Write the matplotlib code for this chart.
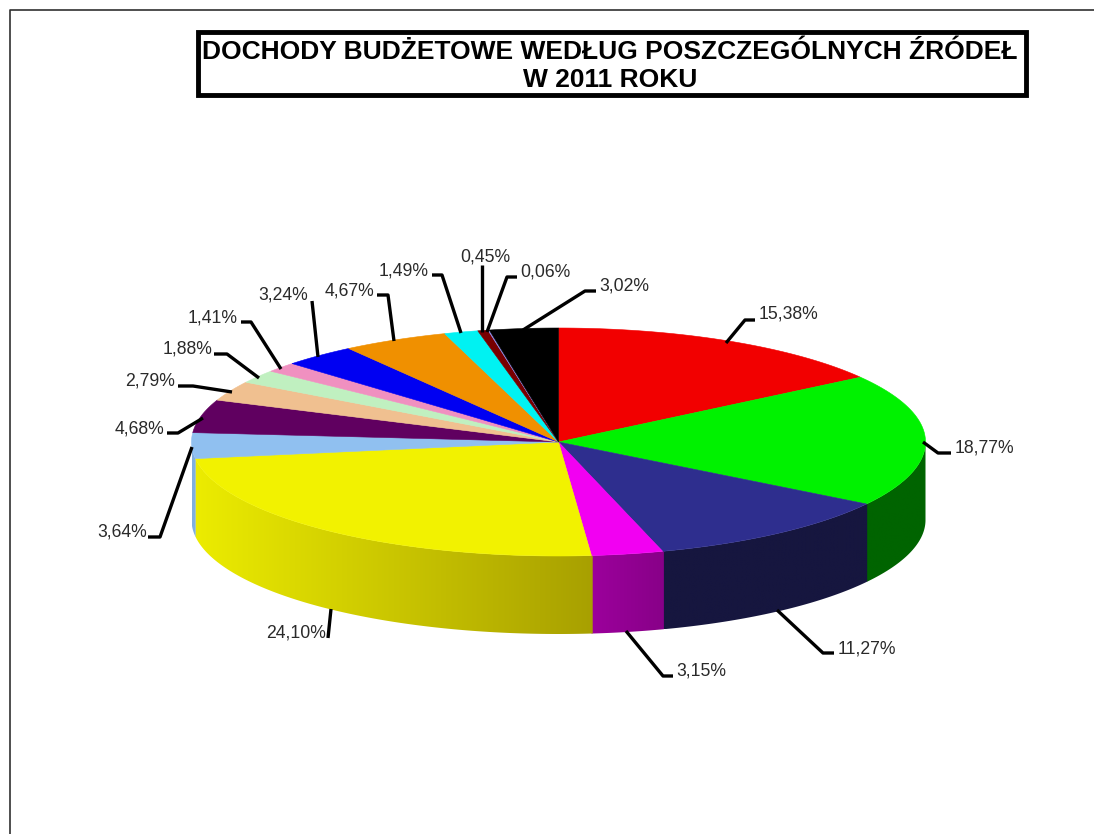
import numpy as np
import matplotlib
matplotlib.use('Agg')
import matplotlib.pyplot as plt
from matplotlib.colors import to_rgb
from matplotlib.patches import Polygon, Rectangle

plt.rcParams['font.family'] = ['Liberation Sans', 'DejaVu Sans']

title = 'DOCHODY BUDŻETOWE WEDŁUG POSZCZEGÓLNYCH ŹRÓDEŁ\nW 2011 ROKU'

shares = [15.38, 18.77, 11.27, 3.15, 24.10, 3.64, 4.68, 2.79,
          1.88, 1.41, 3.24, 4.67, 1.49, 0.45, 0.06, 3.02]
labels = ['15,38%', '18,77%', '11,27%', '3,15%', '24,10%', '3,64%', '4,68%', '2,79%',
          '1,88%', '1,41%', '3,24%', '4,67%', '1,49%', '0,45%', '0,06%', '3,02%']
top_colors = ['#f20000', '#00f200', '#2e2e8e', '#f200f2', '#f2f200', '#90c0f0', '#600060', '#f0c090',
              '#c0f0c0', '#f090c0', '#0000f2', '#f09000', '#00f2f2', '#780000', '#9090f0', '#000000']
# side colours at the left and at the right end of the pie wall
side_left = {1: '#006400', 2: '#16163f', 3: '#9c009c', 4: '#ecec00', 5: '#80b0e0'}
side_right = {1: '#006400', 2: '#16163f', 3: '#880088', 4: '#a8a000', 5: '#80b0e0'}

# leader lines, in picture pixels: path, then text anchor
leaders = [
    ([(726, 343), (745, 320), (755, 320)], (759, 314), 'left'),
    ([(923, 442), (938, 453), (951, 453)], (955, 448), 'left'),
    ([(777, 610), (823, 653), (834, 653)], (838, 649), 'left'),
    ([(626, 631), (663, 676), (673, 676)], (676, 671), 'left'),
    ([(331, 609), (328, 638)], (326, 633), 'right'),
    ([(192, 447), (160, 537), (148, 537)], (147, 532), 'right'),
    ([(203, 418), (178, 433), (167, 433)], (164, 429), 'right'),
    ([(232, 392), (193, 386), (178, 386)], (175, 381), 'right'),
    ([(259, 378), (227, 354), (214, 354)], (212, 349), 'right'),
    ([(281, 369), (251, 322), (241, 322)], (238, 318), 'right'),
    ([(318, 357), (312, 301)], (308, 295), 'right'),
    ([(394, 341), (388, 295), (377, 295)], (374, 291), 'right'),
    ([(461, 333), (442, 275), (432, 275)], (429, 271), 'right'),
    ([(482, 332), (482, 265)], (485, 257), 'center'),
    ([(487, 332), (507, 277), (517, 277)], (520, 272), 'left'),
    ([(523, 330), (585, 291), (596, 291)], (599, 286), 'left'),
]

cx, cy = 558.5, 442.0
rx, ry = 367.0, 114.0
depth = 78.0


def ellipse_xy(deg):
    # angle counted clockwise from 12 o'clock
    rad = np.radians(deg)
    return cx + rx * np.sin(rad), cy - ry * np.cos(rad)


def draw_side(ax, i, start, end):
    a0 = max(start, 90)
    a1 = min(end, 270)
    if a1 <= a0:
        return
    # slight overlap so no white seam shows between two walls
    arc = np.linspace(a0 - 0.2, a1, 120)
    xs, ys = ellipse_xy(arc)
    outline = np.column_stack([np.r_[xs, xs[::-1]], np.r_[ys, ys[::-1] + depth]])
    clip = Polygon(outline, closed=True, transform=ax.transData, fc='none', ec='none')
    ax.add_patch(clip)
    c0 = np.array(to_rgb(side_left[i]))
    c1 = np.array(to_rgb(side_right[i]))
    t = np.linspace(0, 1, 256)[:, None]
    grad = (c0 + (c1 - c0) * t)[None, :, :]
    im = ax.imshow(grad, extent=(xs.min(), xs.max(), ys.max() + depth, ys.min()),
                   aspect='auto', interpolation='bilinear', zorder=2)
    im.set_clip_path(clip)


def main():
    fig = plt.figure(figsize=(10.94, 8.34), dpi=100)
    ax = fig.add_axes([0, 0, 1, 1])
    ax.axis('off')

    # page frame, open at right and bottom
    ax.plot([10, 10, 1094], [834, 10, 10], color='#303030', lw=1.2, zorder=1)

    ax.add_patch(Rectangle((198, 32), 828, 63, fill=False, ec='black', lw=3.5, zorder=5))
    ax.text(610, 66, title, ha='center', va='center', fontsize=19, fontweight='bold',
            linespacing=1.22, color='black', zorder=6)

    angles = np.cumsum([0] + shares) * 3.6
    for i in range(len(shares)):
        draw_side(ax, i, angles[i], angles[i + 1])

    for i in range(len(shares)):
        arc = np.linspace(angles[i], angles[i + 1], max(3, int(shares[i] * 6)))
        xs, ys = ellipse_xy(arc)
        ax.fill(np.r_[cx, xs], np.r_[cy, ys], color=top_colors[i], lw=0.4, zorder=3)

    for (path, anchor, align), label in zip(leaders, labels):
        px, py = zip(*path)
        ax.plot(px, py, color='black', lw=2.4, solid_capstyle='butt', zorder=4)
        ax.text(anchor[0], anchor[1], label, ha=align, va='center', fontsize=12.7,
                color='#2a2a2a', zorder=6)

    # imshow resets the limits, so they are fixed last
    ax.set_xlim(0, 1094)
    ax.set_ylim(834, 0)
    fig.savefig('out.png', dpi=100)


if __name__ == '__main__':
    main()
